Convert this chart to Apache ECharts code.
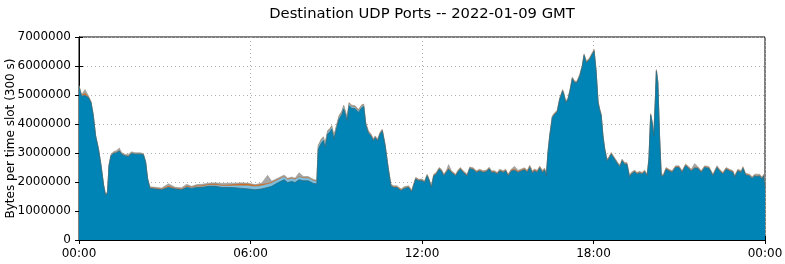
<!DOCTYPE html>
<html><head><meta charset="utf-8">
<script src="https://cdn.jsdelivr.net/npm/echarts@6/dist/echarts.min.js"></script>
<style>html,body{margin:0;padding:0;background:#fff}#c{width:785px;height:264px}</style>
</head><body><div id="c"></div>
<script>
// time of sample (hours since 00:00 GMT)
const times = [
0.00,0.09,0.21,0.33,0.42,0.50,0.58,0.68,0.77,0.86,
0.93,1.00,1.05,1.12,1.20,1.32,1.41,1.49,1.61,1.73,
1.84,1.96,2.14,2.25,2.33,2.40,2.48,2.66,2.89,3.13,
3.36,3.59,3.77,3.94,4.12,4.29,4.53,4.76,5.00,5.23,
5.46,5.69,5.92,6.16,6.39,6.60,6.74,6.97,7.18,7.30,
7.44,7.56,7.70,7.85,8.02,8.20,8.32,8.37,8.47,8.55,
8.61,8.70,8.78,8.84,8.92,9.02,9.10,9.19,9.26,9.31,
9.38,9.45,9.54,9.66,9.78,9.89,9.96,10.03,10.12,10.22,
10.30,10.36,10.45,10.53,10.61,10.71,10.82,10.91,11.00,11.12,
11.27,11.38,11.53,11.64,11.78,11.88,12.00,12.09,12.18,12.25,
12.33,12.41,12.50,12.60,12.68,12.76,12.85,12.93,13.03,13.18,
13.26,13.34,13.44,13.58,13.67,13.79,13.90,14.02,14.14,14.25,
14.35,14.43,14.54,14.63,14.72,14.84,14.93,15.01,15.13,15.24,
15.36,15.48,15.59,15.68,15.77,15.86,15.94,16.03,16.12,16.21,
16.29,16.35,16.41,16.47,16.56,16.64,16.73,16.82,16.92,16.96,
17.03,17.11,17.19,17.26,17.34,17.42,17.52,17.61,17.67,17.75,
17.86,17.95,18.02,18.09,18.16,18.21,18.27,18.33,18.39,18.47,
18.54,18.62,18.68,18.77,18.85,18.93,19.00,19.09,19.17,19.26,
19.32,19.44,19.52,19.61,19.70,19.79,19.88,19.94,20.00,20.05,
20.11,20.16,20.20,20.25,20.31,20.37,20.45,20.54,20.64,20.75,
20.87,20.99,21.10,21.22,21.30,21.42,21.54,21.65,21.77,21.89,
22.04,22.18,22.32,22.41,22.53,22.64,22.76,22.88,22.94,23.05,
23.17,23.23,23.32,23.46,23.55,23.64,23.72,23.81,23.90,23.95,
24.00];
// main port (millions of bytes per slot)
const mainPort = [
5.28,4.96,4.98,4.91,4.73,4.28,3.58,3.13,2.56,1.88,
1.53,1.64,2.56,2.90,2.98,3.01,3.07,2.96,2.90,2.88,
2.98,2.96,2.96,2.94,2.68,2.10,1.78,1.76,1.73,1.81,
1.76,1.73,1.81,1.78,1.81,1.81,1.85,1.85,1.81,1.81,
1.80,1.78,1.76,1.73,1.76,1.81,1.85,1.98,2.08,1.98,
2.02,1.98,2.08,2.04,2.04,1.95,1.93,3.13,3.33,3.43,
3.20,3.66,3.72,3.83,3.48,3.88,4.18,4.31,4.52,4.58,
4.12,4.63,4.54,4.53,4.40,4.56,4.60,3.98,3.70,3.58,
3.42,3.53,3.42,3.65,3.76,3.24,2.44,1.87,1.81,1.81,
1.70,1.78,1.81,1.66,2.10,2.04,2.04,1.98,2.21,2.04,
1.81,2.21,2.27,2.44,2.38,2.21,2.33,2.44,2.33,2.21,
2.35,2.44,2.33,2.21,2.46,2.43,2.33,2.38,2.33,2.35,
2.45,2.33,2.33,2.27,2.38,2.33,2.38,2.21,2.38,2.40,
2.33,2.38,2.42,2.33,2.50,2.31,2.38,2.33,2.48,2.33,
2.41,2.21,3.02,3.58,4.22,4.33,4.41,4.85,5.13,5.02,
4.73,4.85,5.19,5.56,5.42,5.42,5.65,5.99,6.36,6.11,
6.22,6.39,6.51,5.82,4.73,4.50,4.28,3.58,3.13,2.73,
2.81,2.96,3.02,2.73,2.61,2.53,2.73,2.61,2.61,2.16,
2.27,2.35,2.27,2.31,2.27,2.35,2.21,2.79,4.30,4.05,
3.58,4.73,5.82,5.42,3.58,2.21,2.21,2.44,2.38,2.33,
2.50,2.50,2.33,2.56,2.50,2.38,2.48,2.47,2.33,2.50,
2.47,2.21,2.50,2.38,2.27,2.44,2.38,2.33,2.16,2.38,
2.33,2.47,2.24,2.21,2.12,2.21,2.18,2.21,2.10,2.21,
1.81];
const secondPort = [
0.01,0.01,0.01,0.01,0.01,0.01,0.01,0.01,0.01,0.01,
0.01,0.01,0.01,0.01,0.01,0.01,0.01,0.01,0.01,0.01,
0.01,0.01,0.01,0.01,0.01,0.01,0.01,0.01,0.01,0.01,
0.01,0.01,0.02,0.02,0.03,0.03,0.04,0.04,0.05,0.05,
0.07,0.09,0.11,0.11,0.11,0.11,0.11,0.10,0.09,0.10,
0.09,0.10,0.09,0.09,0.09,0.09,0.09,0.09,0.09,0.08,
0.09,0.07,0.08,0.07,0.08,0.07,0.07,0.07,0.08,0.07,
0.07,0.06,0.06,0.05,0.05,0.05,0.04,0.03,0.03,0.02,
0.01,0.01,0.01,0.01,0.01,0.01,0.01,0.01,0.01,0.01,
0.01,0.01,0.01,0.01,0.01,0.01,0.01,0.01,0.01,0.01,
0.01,0.01,0.01,0.01,0.01,0.01,0.01,0.01,0.01,0.01,
0.01,0.01,0.01,0.01,0.01,0.01,0.01,0.01,0.01,0.01,
0.01,0.01,0.01,0.01,0.01,0.01,0.01,0.01,0.01,0.01,
0.01,0.01,0.01,0.01,0.01,0.01,0.01,0.01,0.01,0.01,
0.01,0.01,0.01,0.01,0.01,0.01,0.01,0.01,0.01,0.01,
0.01,0.01,0.01,0.01,0.01,0.01,0.01,0.01,0.01,0.01,
0.01,0.01,0.01,0.01,0.01,0.01,0.01,0.01,0.01,0.01,
0.01,0.01,0.01,0.01,0.01,0.01,0.01,0.01,0.01,0.01,
0.01,0.01,0.01,0.01,0.01,0.01,0.01,0.01,0.01,0.01,
0.01,0.01,0.01,0.01,0.01,0.01,0.01,0.01,0.01,0.01,
0.01,0.01,0.01,0.01,0.01,0.01,0.01,0.01,0.01,0.01,
0.01,0.01,0.01,0.01,0.01,0.01,0.01,0.01,0.01,0.01,
0.01,0.01,0.01,0.01,0.01,0.01,0.01,0.01,0.01,0.01,
0.01];
const thirdPort = [
0.02,0.02,0.07,0.02,0.02,0.01,0.01,0.01,0.01,0.01,
0.01,0.01,0.01,0.01,0.01,0.01,0.01,0.01,0.01,0.01,
0.01,0.01,0.01,0.01,0.01,0.01,0.02,0.02,0.02,0.04,
0.02,0.02,0.03,0.02,0.03,0.03,0.03,0.04,0.03,0.04,
0.05,0.06,0.06,0.04,0.05,0.03,0.03,0.02,0.02,0.02,
0.02,0.02,0.02,0.02,0.02,0.02,0.02,0.02,0.02,0.02,
0.02,0.02,0.02,0.02,0.02,0.02,0.02,0.02,0.02,0.02,
0.02,0.02,0.02,0.02,0.02,0.02,0.02,0.02,0.02,0.02,
0.02,0.02,0.02,0.02,0.02,0.02,0.02,0.02,0.02,0.02,
0.02,0.02,0.02,0.02,0.02,0.02,0.02,0.02,0.02,0.02,
0.02,0.02,0.02,0.02,0.02,0.02,0.02,0.02,0.02,0.02,
0.02,0.02,0.02,0.02,0.02,0.02,0.02,0.02,0.02,0.02,
0.02,0.02,0.02,0.02,0.02,0.02,0.02,0.02,0.03,0.03,
0.03,0.03,0.03,0.03,0.03,0.03,0.03,0.03,0.03,0.03,
0.03,0.02,0.02,0.02,0.02,0.02,0.02,0.02,0.02,0.02,
0.02,0.02,0.02,0.02,0.02,0.02,0.02,0.02,0.02,0.02,
0.02,0.02,0.02,0.02,0.02,0.02,0.02,0.02,0.02,0.02,
0.02,0.02,0.02,0.02,0.02,0.02,0.02,0.02,0.02,0.02,
0.02,0.02,0.02,0.02,0.02,0.02,0.02,0.02,0.02,0.02,
0.02,0.02,0.02,0.02,0.02,0.02,0.02,0.02,0.02,0.02,
0.02,0.02,0.02,0.02,0.02,0.02,0.02,0.02,0.02,0.02,
0.02,0.02,0.02,0.02,0.02,0.02,0.02,0.02,0.02,0.02,
0.02,0.02,0.02,0.02,0.02,0.02,0.02,0.02,0.02,0.02,
0.02];
const otherPorts = [
0.02,0.02,0.13,0.03,0.02,0.02,0.02,0.02,0.02,0.02,
0.02,0.02,0.02,0.03,0.04,0.06,0.08,0.04,0.03,0.06,
0.04,0.03,0.03,0.02,0.02,0.02,0.03,0.03,0.03,0.08,
0.03,0.04,0.06,0.03,0.04,0.05,0.04,0.04,0.06,0.06,
0.04,0.04,0.03,0.03,0.04,0.28,0.04,0.04,0.05,0.03,
0.04,0.03,0.13,0.04,0.04,0.03,0.02,0.03,0.03,0.03,
0.03,0.03,0.03,0.03,0.03,0.03,0.03,0.03,0.03,0.03,
0.03,0.03,0.03,0.03,0.03,0.03,0.03,0.03,0.03,0.03,
0.03,0.03,0.03,0.03,0.03,0.03,0.03,0.03,0.03,0.03,
0.03,0.03,0.03,0.03,0.03,0.03,0.03,0.03,0.03,0.03,
0.03,0.03,0.03,0.03,0.03,0.03,0.03,0.13,0.03,0.03,
0.03,0.03,0.03,0.03,0.03,0.03,0.03,0.03,0.03,0.03,
0.03,0.03,0.03,0.03,0.03,0.03,0.03,0.03,0.03,0.10,
0.03,0.03,0.03,0.03,0.04,0.03,0.03,0.03,0.03,0.03,
0.03,0.03,0.03,0.03,0.03,0.03,0.03,0.03,0.03,0.03,
0.03,0.03,0.03,0.03,0.03,0.03,0.03,0.03,0.03,0.03,
0.03,0.03,0.03,0.03,0.03,0.03,0.03,0.03,0.03,0.03,
0.03,0.03,0.03,0.03,0.03,0.03,0.03,0.03,0.03,0.03,
0.03,0.03,0.03,0.03,0.03,0.03,0.03,0.03,0.03,0.03,
0.03,0.03,0.03,0.03,0.03,0.03,0.03,0.03,0.03,0.03,
0.03,0.03,0.03,0.03,0.03,0.03,0.13,0.03,0.03,0.03,
0.03,0.03,0.03,0.03,0.03,0.03,0.03,0.03,0.03,0.03,
0.03,0.03,0.03,0.03,0.03,0.03,0.06,0.03,0.03,0.03,
0.03];
const xTickLabels = ['00:00','06:00','12:00','18:00','00:00'];
const yTicks = [0,1000000,2000000,3000000,4000000,5000000,6000000,7000000];

const M = 1000000;
const font = 'DejaVu Sans';
// cumulative stack built from the layer arrays (drawn back to front)
const layersDef = [
  {name: 'main', arr: mainPort, color: '#0084b5', line: '#2c6a7c'},
  {name: 'second', arr: secondPort, color: '#7cbfe0', line: '#7cbfe0'},
  {name: 'third', arr: thirdPort, color: '#d2691e', line: '#c06a2a'},
  {name: 'other', arr: otherPorts, color: '#a8a8a8', line: '#8a8a80'}
];
const series = [];
let cum = times.map(() => 0);
const cums = layersDef.map(l => { cum = cum.map((c, i) => c + l.arr[i]); return cum.slice(); });
layersDef.forEach((l, k) => {
  series.push({
    name: l.name, type: 'line', symbol: 'none', smooth: false, z: 10 - k,
    data: times.map((t, i) => [t, Math.round(cums[k][i] * M)]),
    lineStyle: {color: l.line, width: k === 0 ? 0.8 : 0.5},
    areaStyle: {color: l.color, opacity: 1},
    itemStyle: {color: l.color}, silent: true, animation: false
  });
});
const chart = echarts.init(document.getElementById('c'), null, {renderer: 'canvas'});
chart.setOption({
  animation: false,
  title: {text: 'Destination UDP Ports -- 2022-01-09 GMT', left: 417, top: 2, textAlign: 'center',
    textStyle: {fontFamily: font, fontSize: 14.75, fontWeight: 'normal', color: '#000'}},
  grid: {left: 79, right: 20, top: 37, bottom: 24, show: true, borderColor: '#000', borderWidth: 1,
    containLabel: false, outerBoundsMode: 'none'},
  xAxis: [{
    type: 'value', min: 0, max: 24, interval: 6,
    axisLine: {show: true, lineStyle: {color: '#000'}},
    axisTick: {show: true, inside: true, length: 4, lineStyle: {color: '#000'}},
    axisLabel: {fontFamily: font, fontSize: 12, color: '#000', margin: 8,
      formatter: v => xTickLabels[Math.round(v / 6)]},
    splitLine: {show: true, lineStyle: {color: '#b0b0b0', type: [1, 3], width: 1}}
  }, {
    type: 'value', min: 0, max: 24, interval: 6, position: 'top',
    axisLine: {show: true, lineStyle: {color: '#000'}},
    axisTick: {show: true, inside: true, length: 4, lineStyle: {color: '#000'}},
    axisLabel: {show: false}, splitLine: {show: false}
  }],
  yAxis: [{
    type: 'value', min: 0, max: 7 * M, interval: M,
    name: 'Bytes per time slot (300 s)', nameLocation: 'middle', nameGap: 62, nameMoveOverlap: false,
    nameTextStyle: {fontFamily: font, fontSize: 12, color: '#000'},
    axisLine: {show: true, lineStyle: {color: '#000'}},
    axisTick: {show: true, inside: true, length: 4, lineStyle: {color: '#000'}},
    axisLabel: {fontFamily: font, fontSize: 12, color: '#000', margin: 8,
      formatter: v => String(yTicks[Math.round(v / M)])},
    splitLine: {show: true, lineStyle: {color: '#b0b0b0', type: [1, 3], width: 1}}
  }, {
    type: 'value', min: 0, max: 7 * M, interval: M, position: 'right',
    axisLine: {show: true, lineStyle: {color: '#000'}},
    axisTick: {show: true, inside: true, length: 4, lineStyle: {color: '#000'}},
    axisLabel: {show: false}, splitLine: {show: false}
  }],
  series: series.reverse()
});
</script></body></html>
